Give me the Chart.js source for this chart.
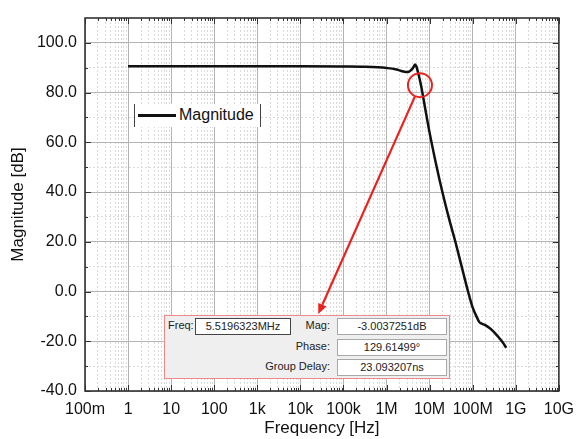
<!DOCTYPE html>
<html>
<head>
<meta charset="utf-8">
<script src="https://cdn.jsdelivr.net/npm/chart.js@4"></script>
<style>
  html, body { margin:0; padding:0; background:#fff; }
  #wrap { position:relative; width:583px; height:439px; font-family:'Liberation Sans', Arial, sans-serif; color:#111; }
  canvas { display:block; }

  /* leyenda estilo Origin: solo barras laterales */
  .leg { position:absolute; left:134px; top:104px; width:125px; height:23px; background:#fff;
         border-left:1px solid #444; border-right:1px solid #444; }
  .leg-line { position:absolute; left:3px; top:10px; width:38px; height:3px; background:#111; }
  .leg-txt { position:absolute; left:44px; top:2px; font-size:16px; }

  /* cuadro del marcador */
  .info { position:absolute; left:164px; top:315px; width:284px; height:62px; background:#efefef;
          border:1.5px solid #f08a8a; font-size:11px; color:#222; }
  .lbl { position:absolute; text-align:right; white-space:nowrap; }
  .fld { position:absolute; background:#fff; border:1px solid #a8a8a8; text-align:center;
         height:15px; line-height:15px; white-space:nowrap; }
</style>
</head>
<body>
<div id="wrap">
  <canvas id="grafica-bode" width="583" height="439"></canvas>

  <div class="leg"><div class="leg-line"></div><div class="leg-txt">Magnitude</div></div>

  <div class="info">
    <div class="lbl" style="left:3px;top:3px">Freq:</div>
    <div class="fld" id="f-freq" style="left:30px;top:2px;width:94px;border-color:#444"></div>
    <div class="lbl" style="right:119px;top:3px">Mag:</div>
    <div class="fld" id="f-mag" style="left:172px;top:2px;width:108px"></div>
    <div class="lbl" style="right:119px;top:24px">Phase:</div>
    <div class="fld" id="f-phase" style="left:172px;top:23px;width:108px"></div>
    <div class="lbl" style="right:119px;top:44px">Group Delay:</div>
    <div class="fld" id="f-gd" style="left:172px;top:43px;width:108px"></div>
  </div>
</div>

<script>
/* ============================================================
   DATOS
   ============================================================ */
const FREQ_HZ = [
  1, 10, 100, 1e3, 1e4, 1e5, 3.2e5, 6.3e5, 1e6, 1.6e6, 2.2e6, 2.8e6, 3.3e6, 3.8e6,
  4.3e6, 4.6e6, 4.9e6, 5.5e6, 6.3e6, 7.9e6, 1e7, 1.4e7, 2e7, 2.8e7, 4e7, 5.6e7,
  7.9e7, 1e8, 1.26e8, 1.41e8, 1.58e8, 2e8, 2.5e8, 3.2e8, 4e8, 5e8, 6e8
];
const MAG_DB = [
  90.6, 90.6, 90.6, 90.6, 90.6, 90.5, 90.4, 90.2, 89.9, 89.4, 88.7, 88.3, 88.4, 89.2,
  90.5, 91.3, 90.6, 87.5, 83.0, 73.5, 63.8, 51.5, 39.6, 29.5, 19.7, 9.7,
  -0.4, -6.5, -10.5, -12.2, -12.8, -13.6, -14.8, -16.5, -18.4, -20.5, -22.6
];

const X_TICKS  = [0.1, 1, 10, 100, 1e3, 1e4, 1e5, 1e6, 1e7, 1e8, 1e9, 1e10];
const X_LABELS = ['100m','1','10','100','1k','10k','100k','1M','10M','100M','1G','10G'];
const Y_TICKS  = [-40, -20, 0, 20, 40, 60, 80, 100];
const Y_MINOR  = [-30, -10, 10, 30, 50, 70, 90];

// marcador -3 dB y flecha hacia el cuadro
const MARK_HZ = 5.96e6, MARK_DB = 83.0;
const TIP_HZ  = 2.6e4,  TIP_DB  = -9.0;

const INFO = { freq: '5.5196323MHz', mag: '-3.0037251dB', phase: '129.61499°', gd: '23.093207ns' };

const FONT = "'Liberation Sans', Arial, sans-serif";
const GRID_MAJOR = '#b4b4b4';
const GRID_MINOR = '#dadada';

// ticks menores 2..9 por década
const X_MINOR = [];
for (let e = -1; e < 10; e++) for (let k = 2; k <= 9; k++) X_MINOR.push(k * Math.pow(10, e));

/* ============================================================
   PLUGIN: marco, ticks hacia dentro, círculo y flecha
   ============================================================ */
const marcoPlugin = {
  id: 'marco',
  afterDatasetsDraw(chart) {
    const { ctx, chartArea: a, scales } = chart;
    const x = scales.x, y = scales.y;
    ctx.save();

    // ticks hacia dentro
    ctx.strokeStyle = '#333';
    ctx.lineWidth = 1;
    const tickX = (v, len) => {
      const px = Math.round(x.getPixelForValue(v)) + 0.5;
      ctx.beginPath();
      ctx.moveTo(px, a.bottom); ctx.lineTo(px, a.bottom - len);
      ctx.moveTo(px, a.top);    ctx.lineTo(px, a.top + len);
      ctx.stroke();
    };
    const tickY = (v, len) => {
      const py = Math.round(y.getPixelForValue(v)) + 0.5;
      ctx.beginPath();
      ctx.moveTo(a.left, py);  ctx.lineTo(a.left + len, py);
      ctx.moveTo(a.right, py); ctx.lineTo(a.right - len, py);
      ctx.stroke();
    };
    X_TICKS.forEach(v => tickX(v, 6));
    X_MINOR.forEach(v => tickX(v, 3));
    Y_TICKS.forEach(v => tickY(v, 6));
    Y_MINOR.forEach(v => tickY(v, 3));

    // marco
    ctx.lineWidth = 1.6;
    ctx.strokeStyle = '#333';
    ctx.strokeRect(a.left, a.top, a.right - a.left, a.bottom - a.top);

    // círculo rojo
    const cx = x.getPixelForValue(MARK_HZ), cy = y.getPixelForValue(MARK_DB);
    const r = 12;
    ctx.strokeStyle = '#e8231f';
    ctx.lineWidth = 2;
    ctx.beginPath(); ctx.arc(cx, cy, r, 0, Math.PI * 2); ctx.stroke();

    // flecha
    const tx = x.getPixelForValue(TIP_HZ), ty = y.getPixelForValue(TIP_DB);
    const dx = tx - cx, dy = ty - cy, len = Math.hypot(dx, dy);
    const ux = dx / len, uy = dy / len;
    const head = 10, half = 4.5;
    ctx.lineWidth = 2.2;
    ctx.beginPath();
    ctx.moveTo(cx + ux * r, cy + uy * r);
    ctx.lineTo(tx - ux * head, ty - uy * head);
    ctx.stroke();
    ctx.fillStyle = '#e8231f';
    ctx.beginPath();
    ctx.moveTo(tx, ty);
    ctx.lineTo(tx - ux * head - uy * half, ty - uy * head + ux * half);
    ctx.lineTo(tx - ux * head + uy * half, ty - uy * head - ux * half);
    ctx.closePath();
    ctx.fill();

    ctx.restore();
  }
};

/* ============================================================
   GRÁFICA
   ============================================================ */
function renderBode() {
  const ctx = document.getElementById('grafica-bode');

  new Chart(ctx, {
    type: 'line',
    data: {
      datasets: [{
        label: 'Magnitude',
        data: FREQ_HZ.map((f, i) => ({ x: f, y: MAG_DB[i] })),
        borderColor: '#111',
        borderWidth: 2.5,
        pointRadius: 0,
        cubicInterpolationMode: 'monotone',
        fill: false,
      }]
    },
    options: {
      responsive: false,
      animation: false,
      layout: { padding: { left: 0, right: 18, top: 18, bottom: 0 } },
      plugins: { legend: { display: false }, tooltip: { enabled: false } },
      scales: {
        // rejilla menor punteada (va primero para quedar debajo)
        xm: {
          type: 'logarithmic', min: 0.1, max: 1e10, position: 'bottom',
          afterBuildTicks: s => { s.ticks = X_MINOR.map(v => ({ value: v })); },
          afterFit: s => { s.height = 0; },
          ticks: { display: false },
          grid: { color: GRID_MINOR, lineWidth: 1, drawTicks: false },
          border: { display: false, dash: [2, 2] }
        },
        ym: {
          min: -40, max: 110, position: 'left',
          afterBuildTicks: s => { s.ticks = Y_MINOR.map(v => ({ value: v })); },
          afterFit: s => { s.width = 0; },
          ticks: { display: false },
          grid: { color: GRID_MINOR, lineWidth: 1, drawTicks: false },
          border: { display: false, dash: [2, 2] }
        },
        x: {
          type: 'logarithmic', min: 0.1, max: 1e10, position: 'bottom',
          afterBuildTicks: s => { s.ticks = X_TICKS.map(v => ({ value: v })); },
          afterFit: s => { s.height = 48; },
          ticks: {
            autoSkip: false, maxRotation: 0, padding: 9, color: '#111',
            font: { family: FONT, size: 16 },
            callback: (v, i) => X_LABELS[i]
          },
          grid: { color: GRID_MAJOR, lineWidth: 1, drawTicks: false },
          border: { display: false },
          title: { display: true, text: 'Frequency [Hz]', color: '#111',
                   font: { family: FONT, size: 17 }, padding: { top: 0, bottom: 0 } }
        },
        y: {
          min: -40, max: 110,
          afterBuildTicks: s => { s.ticks = Y_TICKS.map(v => ({ value: v })); },
          afterFit: s => { s.width = 85; },
          ticks: {
            padding: 8, color: '#111', font: { family: FONT, size: 16 },
            callback: v => v.toFixed(1)
          },
          grid: { color: GRID_MAJOR, lineWidth: 1, drawTicks: false },
          border: { display: false },
          title: { display: true, text: 'Magnitude [dB]', color: '#111',
                   font: { family: FONT, size: 17 }, padding: { top: 8, bottom: 0 } }
        }
      }
    },
    plugins: [marcoPlugin]
  });

  document.getElementById('f-freq').textContent  = INFO.freq;
  document.getElementById('f-mag').textContent   = INFO.mag;
  document.getElementById('f-phase').textContent = INFO.phase;
  document.getElementById('f-gd').textContent    = INFO.gd;
}

renderBode();
</script>
</body>
</html>
